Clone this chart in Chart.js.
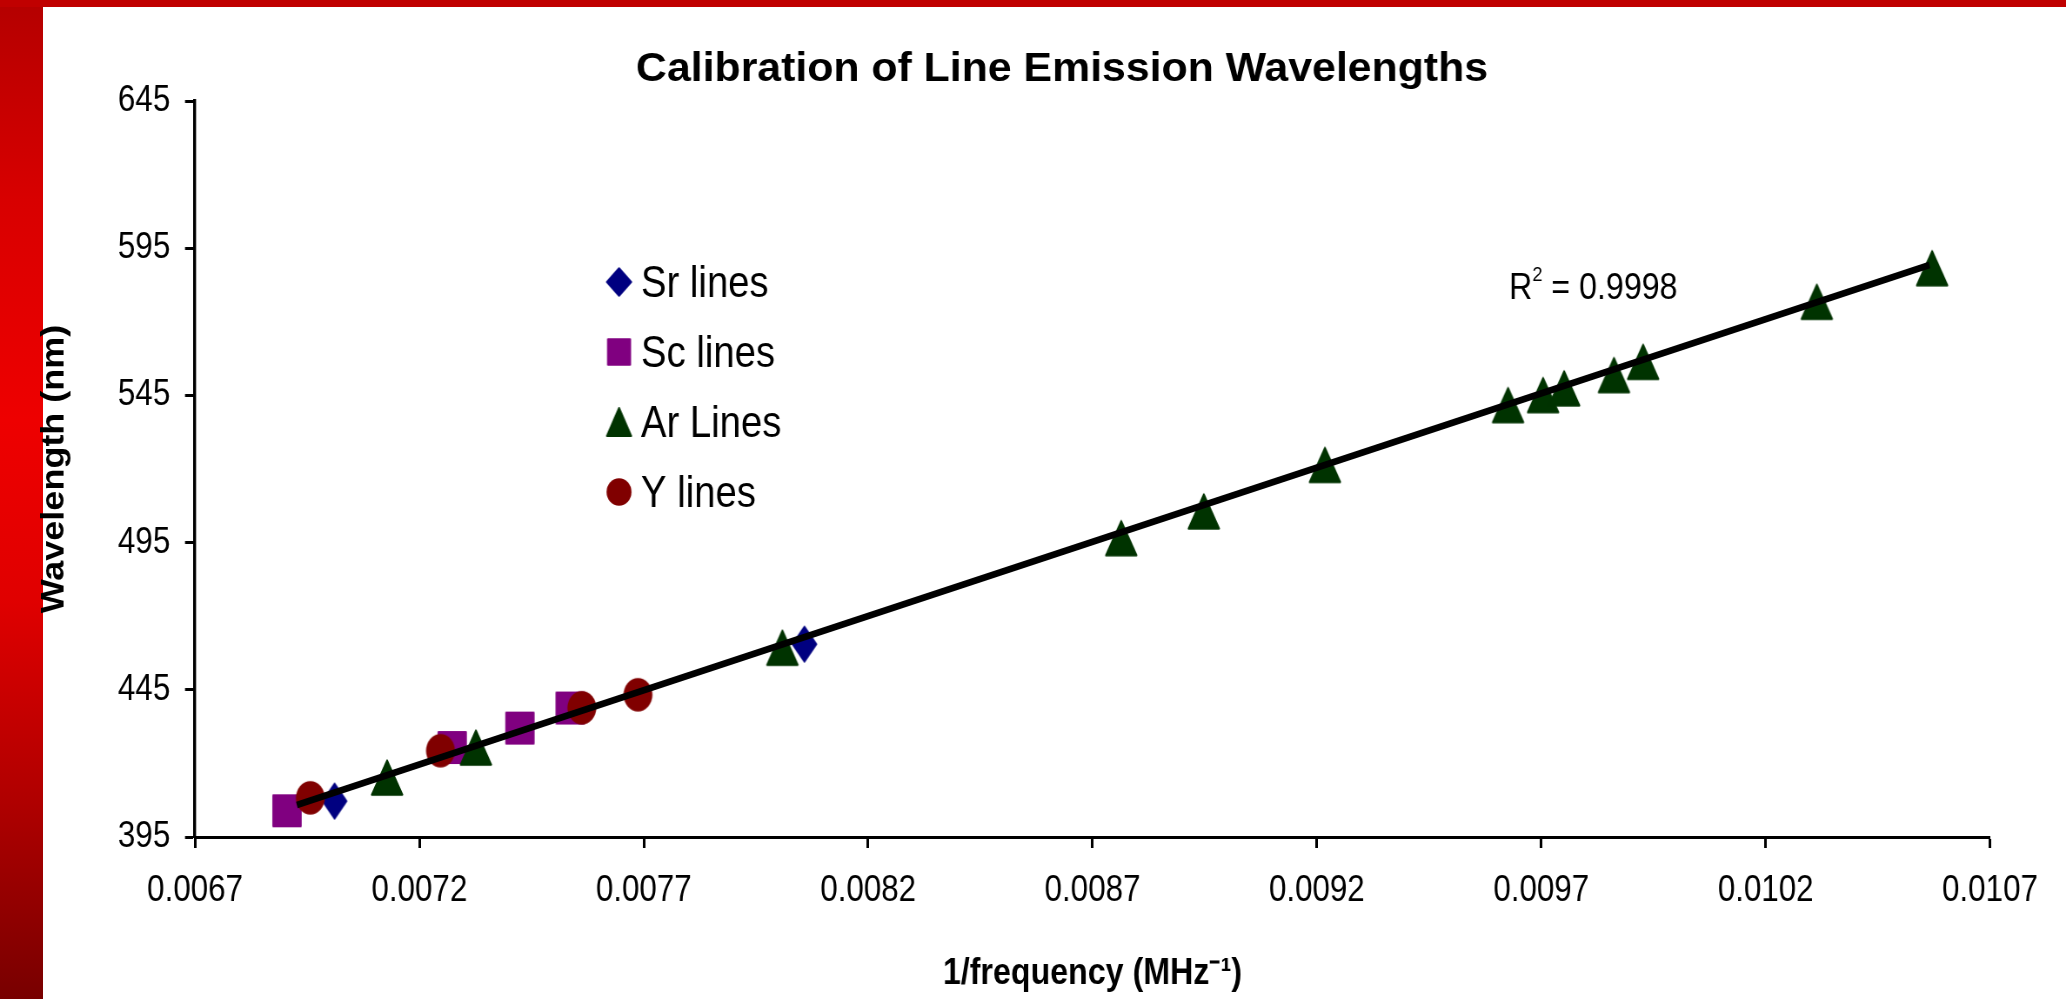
<!DOCTYPE html>
<html>
<head>
<meta charset="utf-8">
<script src="https://cdn.jsdelivr.net/npm/chart.js@4.4.0/dist/chart.umd.min.js"></script>
<style>
html,body{margin:0;padding:0;background:#fff;width:2066px;height:999px;overflow:hidden;}
#strip{position:absolute;left:0;top:0;width:43px;height:999px;
  background:linear-gradient(to bottom,#b40000 0%,#d80000 20%,#ee0000 42%,#e00000 60%,#b00000 80%,#780000 100%);}
#bar{position:absolute;left:0;top:0;width:2066px;height:7px;background:#c00000;}
#c{position:absolute;left:0;top:0;z-index:2;}
</style>
</head>
<body>
<div id="strip"></div>
<div id="bar"></div>
<canvas id="c" width="2375" height="999" style="width:2066px;height:999px;"></canvas>
<script>
// ---------------- data ----------------
const chartTitle = 'Calibration of Line Emission Wavelengths';
const xAxisTitle = '1/frequency (MHz\u207B\u00B9)';
const yAxisTitle = 'Wavelength (nm)';
const seriesNames = ['Sr lines', 'Sc lines', 'Ar Lines', 'Y lines'];
const seriesColors = ['#000080', '#800080', '#003300', '#800000'];

const srX = [0.007011, 0.008058];
const srY = [407.2, 460.5];

const scX = [0.006905, 0.007273, 0.007424, 0.007536];
const scY = [403.9, 425.4, 432.0, 438.8];

const arX = [0.007128, 0.007326, 0.008009, 0.008764, 0.008948, 0.009218, 0.009626,
             0.009704, 0.009751, 0.009862, 0.009927, 0.010314, 0.010571];
const arY = [415.2, 425.4, 459.3, 496.5, 505.6, 521.4, 541.7,
             545.1, 547.4, 551.9, 556.4, 576.8, 588.2];

const yX = [0.006957, 0.007247, 0.007562, 0.007687];
const yY = [408.3, 424.3, 438.9, 443.3];

const trendX = [0.006927, 0.010565];
const trendY = [405.9, 589.3];
const r2Value = '0.9998';

const xTickValues = [0.0067, 0.0072, 0.0077, 0.0082, 0.0087, 0.0092, 0.0097, 0.0102, 0.0107];
const xTickLabels = ['0.0067', '0.0072', '0.0077', '0.0082', '0.0087', '0.0092', '0.0097', '0.0102', '0.0107'];
const yTickValues = [395, 445, 495, 545, 595, 645];
const yTickLabels = ['395', '445', '495', '545', '595', '645'];

// ---------------- layout helpers ----------------
const K = 2066 / 2375;            // horizontal squeeze of the picture
const fx = v => v / K;            // picture x (px) -> canvas x
const FONT = '"Liberation Sans", Arial, Helvetica, sans-serif';

function makeMarker(shape, w, h, color) {
  const c = document.createElement('canvas');
  c.width = Math.ceil(w) + 2;
  c.height = Math.ceil(h) + 2;
  const g = c.getContext('2d');
  const cx = c.width / 2, cy = c.height / 2;
  const iw = w - 2, ih = h - 2;
  g.fillStyle = color; g.strokeStyle = color; g.lineWidth = 2; g.lineJoin = 'round';
  g.beginPath();
  if (shape === 'square') {
    g.rect(cx - iw / 2, cy - ih / 2, iw, ih);
  } else if (shape === 'circle') {
    g.ellipse(cx, cy, w / 2, h / 2, 0, 0, Math.PI * 2);
  } else if (shape === 'diamond') {
    g.moveTo(cx, cy - ih / 2); g.lineTo(cx + iw / 2, cy); g.lineTo(cx, cy + ih / 2); g.lineTo(cx - iw / 2, cy);
  } else if (shape === 'triangle') {
    g.moveTo(cx, cy - ih / 2); g.lineTo(cx + iw / 2, cy + ih / 2); g.lineTo(cx - iw / 2, cy + ih / 2);
  }
  g.closePath(); g.fill();
  if (shape !== 'circle') g.stroke();
  return c;
}

const shapes = ['diamond', 'square', 'triangle', 'circle'];
const plotSizes = [[29.5, 36.7], [33.7, 33], [37.2, 36.3], [33.3, 33.3]];
const legendSizes = [[29.9, 29.5], [27.6, 27.3], [29.9, 30], [28.7, 27.5]];
const plotMarkers = shapes.map((s, i) => makeMarker(s, plotSizes[i][0], plotSizes[i][1], seriesColors[i]));
const legendMarkers = shapes.map((s, i) => makeMarker(s, legendSizes[i][0], legendSizes[i][1], seriesColors[i]));

const pts = (xs, ys) => xs.map((x, i) => ({x: x, y: ys[i]}));
const seriesData = [pts(srX, srY), pts(scX, scY), pts(arX, arY), pts(yX, yY)];
const drawOrder = [4, 3, 2, 1];

const datasets = seriesNames.map((name, i) => ({
  label: name,
  data: seriesData[i],
  pointStyle: plotMarkers[i],
  legendMarker: legendMarkers[i],
  pointRadius: 16,
  pointHoverRadius: 16,
  backgroundColor: seriesColors[i],
  borderColor: seriesColors[i],
  showLine: false,
  order: drawOrder[i]
}));
datasets.push({
  label: 'Linear fit',
  data: pts(trendX, trendY),
  showLine: true,
  borderColor: '#000',
  borderWidth: 6.8,
  pointRadius: 0,
  fill: false,
  tension: 0,
  order: 0
});

// ---------------- custom text (title, legend, R²) ----------------
const decorPlugin = {
  id: 'decor',
  afterDraw(chart) {
    const ctx = chart.ctx;
    // title
    ctx.save();
    ctx.fillStyle = '#000';
    ctx.font = 'bold 40px ' + FONT;
    const tw = ctx.measureText(chartTitle).width;
    const sx = fx(852) / tw;
    ctx.translate(fx(1062), 81);
    ctx.scale(sx, 1);
    ctx.textAlign = 'center';
    ctx.textBaseline = 'alphabetic';
    ctx.fillText(chartTitle, 0, 0);
    ctx.restore();

    // legend
    ctx.save();
    ctx.fillStyle = '#000';
    ctx.font = '44px ' + FONT;
    ctx.textAlign = 'left';
    ctx.textBaseline = 'alphabetic';
    const baselines = [297, 367, 437, 507];
    chart.data.datasets.forEach((ds, i) => {
      if (!ds.legendMarker) return;
      const m = ds.legendMarker;
      const cy = baselines[i] - 15;
      ctx.drawImage(m, fx(619) - m.width / 2, cy - m.height / 2);
      ctx.fillText(ds.label, fx(641), baselines[i]);
    });
    ctx.restore();

    // R² label
    ctx.save();
    ctx.fillStyle = '#000';
    ctx.textBaseline = 'alphabetic';
    ctx.textAlign = 'left';
    let x = fx(1509);
    const base = 298.5;
    ctx.font = '37px ' + FONT;
    ctx.fillText('R', x, base);
    x += ctx.measureText('R').width;
    ctx.font = '21px ' + FONT;
    ctx.fillText('2', x, 281);
    x += ctx.measureText('2').width;
    ctx.font = '37px ' + FONT;
    ctx.fillText(' = ' + r2Value, x, base);
    ctx.restore();
  }
};

Chart.defaults.font.family = FONT;
Chart.defaults.color = '#000';

new Chart(document.getElementById('c'), {
  type: 'scatter',
  data: { datasets: datasets },
  options: {
    responsive: false,
    devicePixelRatio: 1,
    animation: false,
    events: [],
    layout: { autoPadding: false, padding: { left: 0, top: 101, right: 2375 - fx(1990), bottom: 0 } },
    plugins: { legend: { display: false }, title: { display: false }, tooltip: { enabled: false } },
    scales: {
      x: {
        type: 'linear',
        position: 'bottom',
        min: xTickValues[0],
        max: xTickValues[xTickValues.length - 1],
        afterBuildTicks: s => { s.ticks = xTickValues.map(v => ({ value: v })); },
        afterFit: s => { s.height = 162; },
        ticks: {
          callback: (v, i) => xTickLabels[i],
          font: { size: 36 },
          color: '#000',
          padding: 21,
          autoSkip: false,
          maxRotation: 0,
          minRotation: 0
        },
        grid: { drawOnChartArea: false, drawTicks: true, tickLength: 11, tickWidth: 3, tickColor: '#000' },
        border: { display: true, color: '#000', width: 3 },
        title: { display: true, text: xAxisTitle, font: { size: 37, weight: 'bold' }, color: '#000', padding: { top: 0, bottom: 3 } }
      },
      y: {
        type: 'linear',
        position: 'left',
        min: yTickValues[0],
        max: yTickValues[yTickValues.length - 1],
        afterBuildTicks: s => { s.ticks = yTickValues.map(v => ({ value: v })); },
        afterFit: s => { s.width = fx(195); },
        ticks: {
          callback: (v, i) => yTickLabels[i],
          font: { size: 36 },
          color: '#000',
          padding: 17,
          autoSkip: false
        },
        grid: { drawOnChartArea: false, drawTicks: true, tickLength: 11.5, tickWidth: 3, tickColor: '#000' },
        border: { display: true, color: '#000', width: 3.4 },
        title: { display: true, text: yAxisTitle, font: { size: 36, weight: 'bold' }, color: '#000', padding: { top: fx(55) - 21.6, bottom: 0 } }
      }
    }
  },
  plugins: [decorPlugin]
});
</script>
</body>
</html>
